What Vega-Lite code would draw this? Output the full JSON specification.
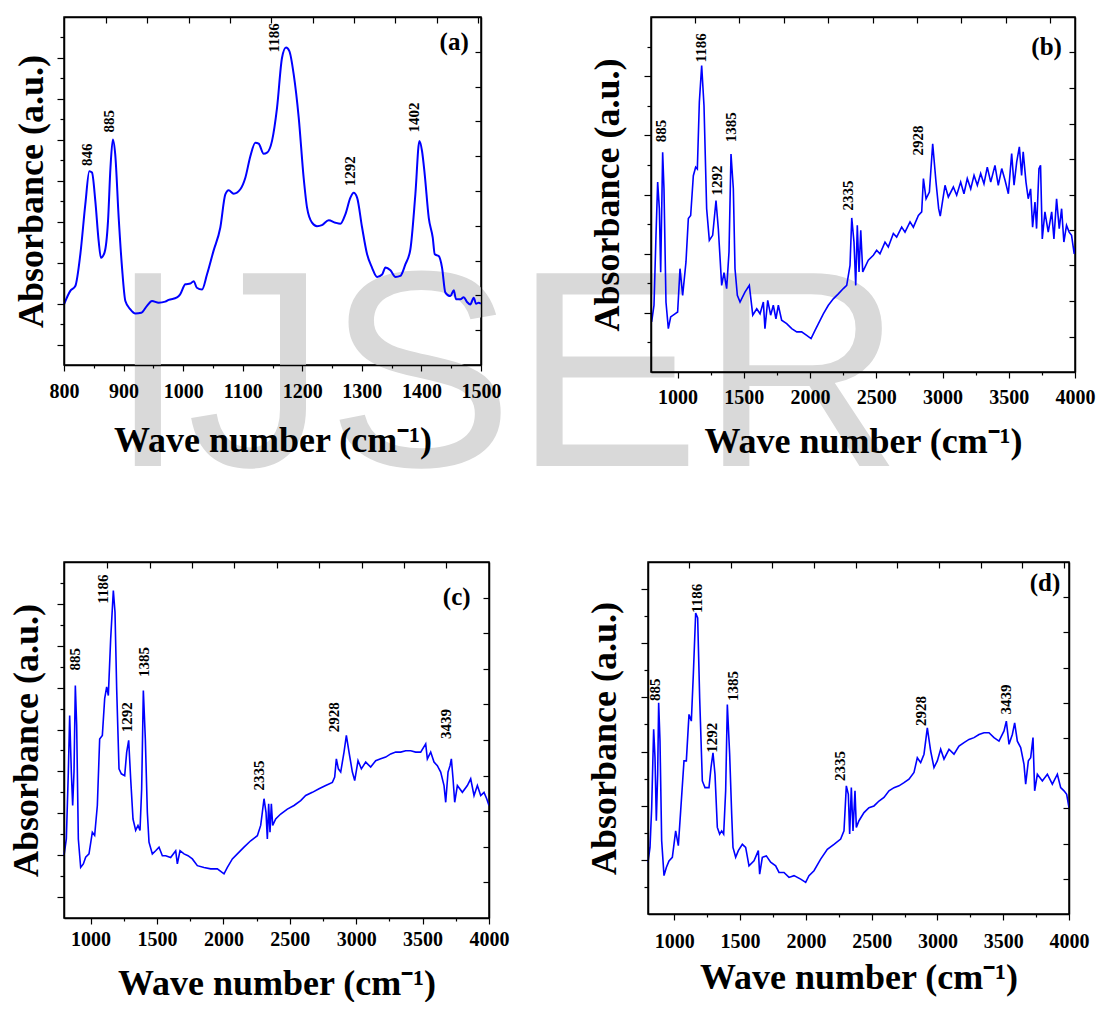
{
"$schema": "https://vega.github.io/schema/vega-lite/v6.json",
"background": "white",
"padding": {"left": 7, "top": 15, "right": 0, "bottom": 0},
"autosize": {"type": "pad"},
"config": {
  "view": {"stroke": "black", "strokeWidth": 1.5},
  "axis": {"domainColor": "black", "domainWidth": 1.5, "tickColor": "black", "tickWidth": 1.2, "grid": false, "zindex": 1,
    "labelFont": "Liberation Serif", "labelFontWeight": "bold", "labelFontSize": 20, "labelColor": "black",
    "titleFont": "Liberation Serif", "titleFontWeight": "bold", "titleFontSize": 36, "titleColor": "black"}
},
"datasets": {
  "a": [{"w":800,"v":17.4},{"w":810.6,"v":21.3},{"w":819,"v":22.7},{"w":827.4,"v":31.8},{"w":835.8,"v":46.2},{"w":842.5,"v":55.7},{"w":847,"v":55.3},{"w":852.6,"v":47.1},{"w":858.2,"v":35.6},{"w":862,"v":30.8},{"w":868,"v":32.3},{"w":873.9,"v":41.4},{"w":878,"v":56.7},{"w":882,"v":64.8},{"w":886,"v":60.5},{"w":891.8,"v":42.3},{"w":897.4,"v":28},{"w":903,"v":18.4},{"w":911.4,"v":16},{"w":919.8,"v":14.8},{"w":929.8,"v":15},{"w":939.3,"v":17},{"w":947.7,"v":18.4},{"w":959,"v":17.9},{"w":970,"v":18.2},{"w":975.7,"v":18.7},{"w":989.7,"v":19.4},{"w":995,"v":20.3},{"w":1003.7,"v":23.2},{"w":1012,"v":23.4},{"w":1017.7,"v":24.1},{"w":1023,"v":22.2},{"w":1031.7,"v":21.7},{"w":1040,"v":26},{"w":1051,"v":32.8},{"w":1062.4,"v":39.5},{"w":1070.8,"v":49},{"w":1076.4,"v":50.2},{"w":1084.8,"v":49.2},{"w":1096,"v":50.5},{"w":1104.4,"v":53.8},{"w":1112.8,"v":60},{"w":1121.2,"v":63.9},{"w":1126.8,"v":63.6},{"w":1135.2,"v":60.7},{"w":1140.8,"v":61},{"w":1149.2,"v":64.4},{"w":1157.6,"v":73.9},{"w":1166,"v":88.3},{"w":1172.7,"v":91.2},{"w":1178.3,"v":90.2},{"w":1185.6,"v":83.5},{"w":1194,"v":71.1},{"w":1202.3,"v":53.8},{"w":1208,"v":45.2},{"w":1216.3,"v":40.9},{"w":1224.7,"v":39.9},{"w":1233,"v":40.2},{"w":1244.3,"v":41.6},{"w":1255.5,"v":40.9},{"w":1264,"v":40.6},{"w":1272.3,"v":43.3},{"w":1280.8,"v":48.1},{"w":1286.3,"v":49.5},{"w":1292,"v":48.1},{"w":1300.4,"v":39.5},{"w":1308.8,"v":31.8},{"w":1317,"v":28},{"w":1325.6,"v":25.3},{"w":1334,"v":26},{"w":1339.6,"v":28},{"w":1348,"v":27.2},{"w":1356.5,"v":25.3},{"w":1364.6,"v":25.6},{"w":1373,"v":28.9},{"w":1381.4,"v":33.2},{"w":1389.8,"v":49},{"w":1396.6,"v":64.4},{"w":1401,"v":61.5},{"w":1405.5,"v":54.8},{"w":1412.3,"v":42.3},{"w":1419,"v":36.6},{"w":1422.4,"v":31.8},{"w":1429,"v":31.3},{"w":1434.6,"v":28},{"w":1440.2,"v":20.8},{"w":1448.6,"v":19.8},{"w":1454.3,"v":21.5},{"w":1458,"v":18.9},{"w":1465.4,"v":18.9},{"w":1471,"v":19.5},{"w":1476.5,"v":18.1},{"w":1482,"v":17.4},{"w":1487.8,"v":19.3},{"w":1491.7,"v":17.6},{"w":1496,"v":17.9},{"w":1500,"v":17.6}],
  "b": [{"w":805,"v":14.1},{"w":822.6,"v":18.8},{"w":837.7,"v":38.5},{"w":850.3,"v":53.5},{"w":863,"v":46},{"w":873,"v":28.1},{"w":888,"v":61.9},{"w":898,"v":51.6},{"w":913,"v":19.7},{"w":930.8,"v":12.2},{"w":948.4,"v":15.5},{"w":981,"v":16.4},{"w":1001,"v":16.9},{"w":1018.9,"v":29.1},{"w":1039,"v":21.6},{"w":1064,"v":31},{"w":1081.8,"v":43.2},{"w":1099.4,"v":44.1},{"w":1119.5,"v":55.3},{"w":1137,"v":57.7},{"w":1149.7,"v":57.2},{"w":1164.8,"v":76},{"w":1182.4,"v":86.3},{"w":1200,"v":75},{"w":1220,"v":46},{"w":1240.3,"v":37.1},{"w":1265.4,"v":38.5},{"w":1290.6,"v":48.3},{"w":1308.2,"v":40.3},{"w":1333.3,"v":24.4},{"w":1351,"v":28},{"w":1371,"v":23.5},{"w":1388.7,"v":33.8},{"w":1403.8,"v":61.4},{"w":1421.4,"v":51.6},{"w":1434,"v":29.1},{"w":1451.6,"v":21.6},{"w":1472,"v":19.7},{"w":1509,"v":22.5},{"w":1542,"v":24.4},{"w":1568,"v":16},{"w":1598,"v":17.8},{"w":1623,"v":16.4},{"w":1648,"v":19.7},{"w":1660,"v":12.2},{"w":1681,"v":20.2},{"w":1703,"v":16},{"w":1723,"v":18.8},{"w":1743,"v":15},{"w":1761,"v":18.8},{"w":1786,"v":14.6},{"w":1824,"v":13.6},{"w":1862,"v":12.2},{"w":1900,"v":11.3},{"w":1937,"v":11.3},{"w":1975,"v":10.3},{"w":2008,"v":9.4},{"w":2038,"v":11.7},{"w":2100.6,"v":16.4},{"w":2138.4,"v":18.8},{"w":2176,"v":20.6},{"w":2213.8,"v":22},{"w":2251.5,"v":23.5},{"w":2277,"v":24.4},{"w":2302,"v":30},{"w":2315,"v":43.4},{"w":2332,"v":36.6},{"w":2345,"v":24.4},{"w":2357,"v":41.3},{"w":2370,"v":28.2},{"w":2383,"v":39.9},{"w":2398,"v":28.2},{"w":2440,"v":31.5},{"w":2478,"v":32.9},{"w":2503,"v":34.3},{"w":2528,"v":33.3},{"w":2566,"v":36.6},{"w":2591,"v":35.2},{"w":2629,"v":39},{"w":2654,"v":38},{"w":2692,"v":40.8},{"w":2717,"v":39.4},{"w":2755,"v":42.3},{"w":2780,"v":40.8},{"w":2818,"v":44.1},{"w":2843,"v":45.1},{"w":2856,"v":54.5},{"w":2876,"v":48.8},{"w":2901,"v":50.7},{"w":2926,"v":64.3},{"w":2951,"v":53.5},{"w":2971,"v":46},{"w":2983,"v":43.9},{"w":3019,"v":52.6},{"w":3044,"v":49.3},{"w":3082,"v":52.1},{"w":3107,"v":49.8},{"w":3137,"v":53.5},{"w":3162,"v":50.2},{"w":3187,"v":54.5},{"w":3213,"v":51.6},{"w":3238,"v":55.4},{"w":3263,"v":52.6},{"w":3288,"v":55.9},{"w":3313,"v":53},{"w":3338,"v":57.7},{"w":3364,"v":53.5},{"w":3396,"v":58.2},{"w":3421,"v":52.6},{"w":3447,"v":57.3},{"w":3472,"v":54},{"w":3497,"v":50.2},{"w":3522,"v":61.5},{"w":3540,"v":52.6},{"w":3560,"v":59.2},{"w":3580,"v":63.4},{"w":3597,"v":55.4},{"w":3609,"v":62},{"w":3630,"v":53.5},{"w":3647,"v":48.8},{"w":3665,"v":51.6},{"w":3680,"v":40.8},{"w":3698,"v":47.9},{"w":3710,"v":40.4},{"w":3728,"v":57.3},{"w":3740,"v":58.2},{"w":3753,"v":37.5},{"w":3773,"v":45.1},{"w":3798,"v":39.4},{"w":3824,"v":45.1},{"w":3841,"v":37.5},{"w":3861,"v":48.8},{"w":3881,"v":40.4},{"w":3899,"v":46},{"w":3916,"v":36.6},{"w":3936,"v":41.3},{"w":3956,"v":39.4},{"w":3974,"v":38.5},{"w":3994,"v":33.3},{"w":4000,"v":35}],
  "c": [{"w":800,"v":17.5},{"w":817.6,"v":22.2},{"w":832.6,"v":41},{"w":842.7,"v":56.9},{"w":855.2,"v":41},{"w":865.3,"v":31.6},{"w":875.3,"v":41},{"w":885.3,"v":65.3},{"w":895.4,"v":54.1},{"w":907.9,"v":22.2},{"w":925.5,"v":14.2},{"w":945.6,"v":15.2},{"w":963.1,"v":17.1},{"w":988.2,"v":18},{"w":1013.4,"v":24.1},{"w":1030.9,"v":23.2},{"w":1051,"v":31.6},{"w":1068.6,"v":50.3},{"w":1088.7,"v":51.3},{"w":1106.2,"v":61.6},{"w":1121.3,"v":64.9},{"w":1133.8,"v":62.5},{"w":1151.4,"v":78.4},{"w":1171.5,"v":92},{"w":1184,"v":85.9},{"w":1196.6,"v":64.4},{"w":1214.2,"v":41.9},{"w":1231.8,"v":40.5},{"w":1256.9,"v":40},{"w":1272,"v":46.6},{"w":1287,"v":49.9},{"w":1302,"v":39.1},{"w":1319.6,"v":27.8},{"w":1339.7,"v":24.6},{"w":1357.2,"v":26},{"w":1372.3,"v":24.6},{"w":1384.8,"v":36.3},{"w":1397.4,"v":63.9},{"w":1412.4,"v":50.3},{"w":1427.5,"v":29.7},{"w":1440,"v":21.3},{"w":1465.2,"v":18},{"w":1490.3,"v":18.9},{"w":1515.4,"v":19.9},{"w":1540.5,"v":17.5},{"w":1565.6,"v":17.5},{"w":1603.2,"v":17},{"w":1640.9,"v":18.9},{"w":1653.4,"v":15.2},{"w":1673.5,"v":18.9},{"w":1703.6,"v":18},{"w":1733.7,"v":17.5},{"w":1766.4,"v":16.6},{"w":1804,"v":14.7},{"w":1854.2,"v":14.2},{"w":1904.4,"v":13.8},{"w":1954.6,"v":13.8},{"w":2004.8,"v":12.4},{"w":2030,"v":14.2},{"w":2067.6,"v":16.6},{"w":2105.2,"v":18},{"w":2155.4,"v":19.9},{"w":2205.6,"v":21.7},{"w":2255.8,"v":23.1},{"w":2280.9,"v":26},{"w":2293.5,"v":29.7},{"w":2306,"v":33.5},{"w":2321,"v":29.7},{"w":2331,"v":22.2},{"w":2341,"v":32.1},{"w":2351,"v":24.1},{"w":2361.2,"v":32.1},{"w":2371.3,"v":26},{"w":2393.9,"v":27.8},{"w":2431.5,"v":29.2},{"w":2481.7,"v":30.6},{"w":2532,"v":31.6},{"w":2582.1,"v":33},{"w":2619.8,"v":34.4},{"w":2670,"v":35.3},{"w":2720.2,"v":36.3},{"w":2770.4,"v":37.2},{"w":2820.6,"v":38.1},{"w":2838.2,"v":39.6},{"w":2850.7,"v":44.7},{"w":2865.8,"v":41.9},{"w":2883.4,"v":41},{"w":2908.4,"v":46.6},{"w":2926,"v":51.3},{"w":2946,"v":46.6},{"w":2971.2,"v":41},{"w":2988.8,"v":38.6},{"w":3013.9,"v":44.2},{"w":3039,"v":41.9},{"w":3071.6,"v":43.8},{"w":3109.2,"v":42.4},{"w":3146.9,"v":44.2},{"w":3184.5,"v":44.7},{"w":3222.2,"v":45.2},{"w":3259.8,"v":46.1},{"w":3297.5,"v":46.6},{"w":3335.1,"v":46.6},{"w":3372.7,"v":47},{"w":3410.4,"v":47},{"w":3448,"v":46.6},{"w":3485.7,"v":46.6},{"w":3523.3,"v":48.9},{"w":3535.9,"v":44.7},{"w":3561,"v":46.6},{"w":3586,"v":43.8},{"w":3611.2,"v":42.8},{"w":3636.3,"v":41},{"w":3661.4,"v":37.2},{"w":3674,"v":32.5},{"w":3691.5,"v":41},{"w":3706.6,"v":42.8},{"w":3716.6,"v":44.7},{"w":3729.2,"v":39.1},{"w":3741.7,"v":32.5},{"w":3761.8,"v":37.2},{"w":3799.4,"v":35.3},{"w":3837,"v":37.2},{"w":3862.2,"v":39.1},{"w":3887.3,"v":34.4},{"w":3912.4,"v":37.2},{"w":3937.5,"v":34.4},{"w":3962.6,"v":35.3},{"w":3982.7,"v":33.5},{"w":4000,"v":31.6}],
  "d": [{"w":800,"v":14.7},{"w":815.2,"v":18.9},{"w":827.9,"v":30.2},{"w":843,"v":52.5},{"w":853.2,"v":44.4},{"w":863.3,"v":26.5},{"w":873.5,"v":39.7},{"w":881,"v":60},{"w":891.2,"v":49.1},{"w":903.9,"v":20.8},{"w":921.6,"v":10.9},{"w":939.3,"v":13.2},{"w":959.6,"v":15.1},{"w":985,"v":16.1},{"w":1010.3,"v":23.6},{"w":1030.5,"v":19.4},{"w":1048.3,"v":29.3},{"w":1073.6,"v":43.5},{"w":1091.4,"v":43.5},{"w":1111.6,"v":56.7},{"w":1129.4,"v":54.8},{"w":1144.6,"v":68.1},{"w":1162.3,"v":85.5},{"w":1177.5,"v":84.1},{"w":1192.7,"v":61.4},{"w":1213,"v":37.8},{"w":1233.2,"v":35.9},{"w":1263.6,"v":35.9},{"w":1278.8,"v":41.6},{"w":1294,"v":45.8},{"w":1309.2,"v":39.7},{"w":1327,"v":24.6},{"w":1344.7,"v":22.7},{"w":1359.9,"v":23.6},{"w":1375.1,"v":22.7},{"w":1390.3,"v":35},{"w":1403,"v":59.5},{"w":1420.7,"v":45.4},{"w":1436,"v":28.4},{"w":1446,"v":18.9},{"w":1466.3,"v":16.1},{"w":1486.6,"v":18},{"w":1517,"v":19.8},{"w":1542.3,"v":18.9},{"w":1567.7,"v":13.7},{"w":1605.7,"v":15.1},{"w":1638.6,"v":18},{"w":1648.7,"v":11.3},{"w":1669,"v":16.1},{"w":1699.4,"v":16.5},{"w":1732.3,"v":14.7},{"w":1770.4,"v":13.7},{"w":1795.7,"v":11.8},{"w":1833.7,"v":11.8},{"w":1871.7,"v":10.4},{"w":1909.8,"v":10.9},{"w":1960.4,"v":9.9},{"w":1998.4,"v":9},{"w":2023.7,"v":10.9},{"w":2061.7,"v":12.3},{"w":2112.4,"v":15.6},{"w":2163,"v":18.4},{"w":2213.7,"v":19.8},{"w":2264.4,"v":21.3},{"w":2289.7,"v":23.6},{"w":2307.5,"v":36.4},{"w":2322.7,"v":34},{"w":2332.8,"v":22.7},{"w":2345.5,"v":35.9},{"w":2358.2,"v":23.6},{"w":2373.4,"v":35},{"w":2383.5,"v":24.6},{"w":2403.7,"v":26.5},{"w":2441.7,"v":28.8},{"w":2479.7,"v":30.2},{"w":2517.7,"v":30.7},{"w":2555.7,"v":32.1},{"w":2593.7,"v":33.1},{"w":2631.7,"v":35},{"w":2669.7,"v":35.9},{"w":2707.7,"v":36.4},{"w":2745.8,"v":37.3},{"w":2783.8,"v":38.3},{"w":2821.8,"v":40.2},{"w":2847.1,"v":44.4},{"w":2872.5,"v":43},{"w":2897.8,"v":45.4},{"w":2923.1,"v":52.9},{"w":2948.5,"v":46.3},{"w":2973.8,"v":41.6},{"w":2999.1,"v":43.5},{"w":3024.5,"v":46.8},{"w":3049.8,"v":44},{"w":3087.8,"v":46.8},{"w":3125.8,"v":45.4},{"w":3163.8,"v":47.7},{"w":3201.9,"v":48.7},{"w":3239.9,"v":49.6},{"w":3277.9,"v":50.1},{"w":3315.9,"v":51},{"w":3353.9,"v":51.5},{"w":3391.9,"v":51.5},{"w":3429.9,"v":50.1},{"w":3467.9,"v":49.1},{"w":3506,"v":52},{"w":3523.7,"v":54.8},{"w":3544,"v":48.2},{"w":3569.3,"v":51},{"w":3587,"v":54.3},{"w":3607.3,"v":49.1},{"w":3632.7,"v":47.3},{"w":3658,"v":42.5},{"w":3670.7,"v":36.9},{"w":3691,"v":43.5},{"w":3708.7,"v":44.4},{"w":3726.4,"v":50.1},{"w":3739,"v":35},{"w":3759.4,"v":39.7},{"w":3797.4,"v":37.8},{"w":3835.4,"v":39.7},{"w":3873.4,"v":36.9},{"w":3911.4,"v":39.7},{"w":3936.8,"v":35.9},{"w":3962,"v":35},{"w":3982.3,"v":34},{"w":4000,"v":30.2}],
  "la": [{"w":838.6,"v":57.2,"t":"846"},{"w":875,"v":66.8,"t":"885"},{"w":1152,"v":89.8,"t":"1186"},{"w":1280.7,"v":51.4,"t":"1292"},{"w":1388,"v":66.8,"t":"1402"}],
  "lb": [{"w":873,"v":64.7,"t":"885"},{"w":1175,"v":87.2,"t":"1186"},{"w":1295.6,"v":49.7,"t":"1292"},{"w":1401,"v":64.7,"t":"1385"},{"w":2289,"v":45.5,"t":"2335"},{"w":2817.6,"v":61,"t":"2928"}],
  "lc": [{"w":880,"v":69.5,"t":"885"},{"w":1096,"v":88.3,"t":"1186"},{"w":1272,"v":52.2,"t":"1292"},{"w":1402,"v":67.7,"t":"1385"},{"w":2268,"v":35.8,"t":"2335"},{"w":2833,"v":52.2,"t":"2928"},{"w":3674,"v":50.3,"t":"3439"}],
  "ld": [{"w":855,"v":60.5,"t":"885"},{"w":1175,"v":85.5,"t":"1186"},{"w":1284,"v":45.8,"t":"1292"},{"w":1446,"v":60.5,"t":"1385"},{"w":2257,"v":37.8,"t":"2335"},{"w":2872.5,"v":53.4,"t":"2928"},{"w":3523.5,"v":56.7,"t":"3439"}]
},
"concat": [
 {"hconcat": [
  {"width": 417, "height": 348,
   "layer": [
    {"data": {"values": [{"w": 875.5, "v": -29, "t": "IJSER"}]},
     "mark": {"type": "text", "font": "Liberation Sans", "fontSize": 280, "color": "#d9d9d9", "align": "left", "baseline": "alphabetic"},
     "encoding": {"x": {"field": "w", "type": "quantitative", "scale": {"domain": [800, 1500], "nice": false, "zero": false}, "axis": null},
                  "y": {"field": "v", "type": "quantitative", "scale": {"domain": [0, 100], "nice": false, "zero": false}, "axis": null},
                  "text": {"field": "t"}}},
    {"data": {"name": "a"},
     "mark": {"type": "line", "color": "#0000ff", "strokeWidth": 2, "interpolate": "monotone"},
     "encoding": {"x": {"field": "w", "type": "quantitative", "scale": {"domain": [800, 1500], "nice": false, "zero": false},
                        "axis": {"orient": "bottom", "zindex": 2, "values": [800,850,900,950,1000,1050,1100,1150,1200,1250,1300,1350,1400,1450,1500], "format": "d",
                                 "labelExpr": "datum.value % 100 === 0 ? datum.label : ''", "labelOverlap": false, "labelFlush": false,
                                 "tickSize": {"condition": {"test": "datum.value % 100 === 0", "value": 6}, "value": 3},
                                 "labelPadding": 10, "title": "Wave number (cm⁻¹)", "titlePadding": 22}},
                  "y": {"field": "v", "type": "quantitative", "scale": {"domain": [0, 100], "nice": false, "zero": false},
                        "axis": {"orient": "left", "zindex": 2, "values": [5.882,11.765,17.647,23.529,29.412,35.294,41.176,47.059,52.941,58.824,64.706,70.588,76.471,82.353,88.235,94.118],
                                 "labels": false, "tickSize": {"condition": {"test": "round(datum.value*17/100) % 2 === 1", "value": 7}, "value": 4},
                                 "title": "Absorbance (a.u.)", "titlePadding": 6}}}},
    {"data": {"name": "la"},
     "mark": {"type": "text", "angle": 270, "align": "left", "baseline": "middle", "font": "Liberation Serif", "fontWeight": "bold", "fontSize": 15, "color": "black"},
     "encoding": {"x": {"field": "w", "type": "quantitative", "scale": {"domain": [800, 1500], "nice": false, "zero": false},
                        "axis": {"orient": "top", "zindex": 2, "values": [871,940,1010,1079,1148,1218,1287,1356,1426,1495], "labels": false, "title": null, "tickSize": -6}},
                  "y": {"field": "v", "type": "quantitative", "scale": {"domain": [0, 100], "nice": false, "zero": false},
                        "axis": {"orient": "right", "zindex": 2, "values": [10,20,30,40,50,60,70,80,90], "labels": false, "title": null, "tickSize": -6}},
                  "text": {"field": "t"}}},
    {"data": {"values": [{"w": 1455, "v": 92.9, "t": "(a)"}]},
     "mark": {"type": "text", "align": "center", "baseline": "middle", "font": "Liberation Serif", "fontWeight": "bold", "fontSize": 25, "color": "black"},
     "encoding": {"x": {"field": "w", "type": "quantitative", "scale": {"domain": [800, 1500], "nice": false, "zero": false}, "axis": null},
                  "y": {"field": "v", "type": "quantitative", "scale": {"domain": [0, 100], "nice": false, "zero": false}, "axis": null},
                  "text": {"field": "t"}}}
   ],
   "resolve": {"axis": {"x": "independent", "y": "independent"}}},
  {"width": 424, "height": 355,
   "layer": [
    {"data": {"name": "b"},
     "mark": {"type": "line", "color": "#0000ff", "strokeWidth": 1.6},
     "encoding": {"x": {"field": "w", "type": "quantitative", "scale": {"domain": [800, 4000], "nice": false, "zero": false},
                        "axis": {"orient": "bottom", "zindex": 2, "values": [1000,1250,1500,1750,2000,2250,2500,2750,3000,3250,3500,3750,4000], "format": "d",
                                 "labelExpr": "datum.value % 500 === 0 ? datum.label : ''", "labelOverlap": false, "labelFlush": false,
                                 "tickSize": {"condition": {"test": "datum.value % 500 === 0", "value": 6}, "value": 3},
                                 "labelPadding": 9, "title": "Wave number (cm⁻¹)", "titlePadding": 17}},
                  "y": {"field": "v", "type": "quantitative", "scale": {"domain": [0, 100], "nice": false, "zero": false},
                        "axis": {"orient": "left", "zindex": 2, "values": [8.333,16.667,25,33.333,41.667,50,58.333,66.667,75,83.333,91.667],
                                 "labels": false, "tickSize": {"condition": {"test": "round(datum.value*12/100) % 2 === 0", "value": 7}, "value": 4},
                                 "title": "Absorbance (a.u.)", "titlePadding": 17}}}},
    {"data": {"name": "lb"},
     "mark": {"type": "text", "angle": 270, "align": "left", "baseline": "middle", "font": "Liberation Serif", "fontWeight": "bold", "fontSize": 15, "color": "black"},
     "encoding": {"x": {"field": "w", "type": "quantitative", "scale": {"domain": [800, 4000], "nice": false, "zero": false},
                        "axis": {"orient": "top", "zindex": 2, "values": [1132,1467,1802,2137,2472,2807,3142,3477,3812], "labels": false, "title": null, "tickSize": -6}},
                  "y": {"field": "v", "type": "quantitative", "scale": {"domain": [0, 100], "nice": false, "zero": false},
                        "axis": {"orient": "right", "zindex": 2, "values": [10,20,30,40,50,60,70,80,90], "labels": false, "title": null, "tickSize": -6}},
                  "text": {"field": "t"}}},
    {"data": {"values": [{"w": 3786, "v": 91.5, "t": "(b)"}]},
     "mark": {"type": "text", "align": "center", "baseline": "middle", "font": "Liberation Serif", "fontWeight": "bold", "fontSize": 25, "color": "black"},
     "encoding": {"x": {"field": "w", "type": "quantitative", "scale": {"domain": [800, 4000], "nice": false, "zero": false}, "axis": null},
                  "y": {"field": "v", "type": "quantitative", "scale": {"domain": [0, 100], "nice": false, "zero": false}, "axis": null},
                  "text": {"field": "t"}}}
   ],
   "resolve": {"axis": {"x": "independent", "y": "independent"}}}
 ], "spacing": 170, "bounds": "flush"},
 {"hconcat": [
  {"width": 425, "height": 356,
   "layer": [
    {"data": {"name": "c"},
     "mark": {"type": "line", "color": "#0000ff", "strokeWidth": 1.6},
     "encoding": {"x": {"field": "w", "type": "quantitative", "scale": {"domain": [800, 4000], "nice": false, "zero": false},
                        "axis": {"orient": "bottom", "zindex": 2, "values": [1000,1250,1500,1750,2000,2250,2500,2750,3000,3250,3500,3750,4000], "format": "d",
                                 "labelExpr": "datum.value % 500 === 0 ? datum.label : ''", "labelOverlap": false, "labelFlush": false,
                                 "tickSize": {"condition": {"test": "datum.value % 500 === 0", "value": 6}, "value": 3},
                                 "labelPadding": 5, "title": "Wave number (cm⁻¹)", "titlePadding": 17}},
                  "y": {"field": "v", "type": "quantitative", "scale": {"domain": [0, 100], "nice": false, "zero": false},
                        "axis": {"orient": "left", "zindex": 2, "values": [5.882,11.765,17.647,23.529,29.412,35.294,41.176,47.059,52.941,58.824,64.706,70.588,76.471,82.353,88.235,94.118],
                                 "labels": false, "tickSize": {"condition": {"test": "round(datum.value*17/100) % 2 === 1", "value": 7}, "value": 4},
                                 "title": "Absorbance (a.u.)", "titlePadding": 11}}}},
    {"data": {"name": "lc"},
     "mark": {"type": "text", "angle": 270, "align": "left", "baseline": "middle", "font": "Liberation Serif", "fontWeight": "bold", "fontSize": 15, "color": "black"},
     "encoding": {"x": {"field": "w", "type": "quantitative", "scale": {"domain": [800, 4000], "nice": false, "zero": false},
                        "axis": {"orient": "top", "zindex": 2, "values": [1126,1445,1764,2083,2402,2721,3040,3359,3678], "labels": false, "title": null, "tickSize": -6}},
                  "y": {"field": "v", "type": "quantitative", "scale": {"domain": [0, 100], "nice": false, "zero": false},
                        "axis": {"orient": "right", "zindex": 2, "values": [10,20,30,40,50,60,70,80,90], "labels": false, "title": null, "tickSize": -6}},
                  "text": {"field": "t"}}},
    {"data": {"values": [{"w": 3757, "v": 90.2, "t": "(c)"}]},
     "mark": {"type": "text", "align": "center", "baseline": "middle", "font": "Liberation Serif", "fontWeight": "bold", "fontSize": 25, "color": "black"},
     "encoding": {"x": {"field": "w", "type": "quantitative", "scale": {"domain": [800, 4000], "nice": false, "zero": false}, "axis": null},
                  "y": {"field": "v", "type": "quantitative", "scale": {"domain": [0, 100], "nice": false, "zero": false}, "axis": null},
                  "text": {"field": "t"}}}
   ],
   "resolve": {"axis": {"x": "independent", "y": "independent"}}},
  {"width": 421, "height": 352,
   "layer": [
    {"data": {"name": "d"},
     "mark": {"type": "line", "color": "#0000ff", "strokeWidth": 1.6},
     "encoding": {"x": {"field": "w", "type": "quantitative", "scale": {"domain": [800, 4000], "nice": false, "zero": false},
                        "axis": {"orient": "bottom", "zindex": 2, "values": [1000,1250,1500,1750,2000,2250,2500,2750,3000,3250,3500,3750,4000], "format": "d",
                                 "labelExpr": "datum.value % 500 === 0 ? datum.label : ''", "labelOverlap": false, "labelFlush": false,
                                 "tickSize": {"condition": {"test": "datum.value % 500 === 0", "value": 6}, "value": 3},
                                 "labelPadding": 11, "title": "Wave number (cm⁻¹)", "titlePadding": 9}},
                  "y": {"field": "v", "type": "quantitative", "scale": {"domain": [0, 100], "nice": false, "zero": false},
                        "axis": {"orient": "left", "zindex": 2, "values": [7.692,15.385,23.077,30.769,38.462,46.154,53.846,61.538,69.231,76.923,84.615,92.308],
                                 "labels": false, "tickSize": {"condition": {"test": "round(datum.value*13/100) % 2 === 0", "value": 7}, "value": 4},
                                 "title": "Absorbance (a.u.)", "titlePadding": 17}}}},
    {"data": {"name": "ld"},
     "mark": {"type": "text", "angle": 270, "align": "left", "baseline": "middle", "font": "Liberation Serif", "fontWeight": "bold", "fontSize": 15, "color": "black"},
     "encoding": {"x": {"field": "w", "type": "quantitative", "scale": {"domain": [800, 4000], "nice": false, "zero": false},
                        "axis": {"orient": "top", "zindex": 2, "values": [1112,1429,1745,2062,2379,2695,3012,3329,3645,3962], "labels": false, "title": null, "tickSize": -6}},
                  "y": {"field": "v", "type": "quantitative", "scale": {"domain": [0, 100], "nice": false, "zero": false},
                        "axis": {"orient": "right", "zindex": 2, "values": [10,20,30,40,50,60,70,80,90], "labels": false, "title": null, "tickSize": -6}},
                  "text": {"field": "t"}}},
    {"data": {"values": [{"w": 3817.5, "v": 93.9, "t": "(d)"}]},
     "mark": {"type": "text", "align": "center", "baseline": "middle", "font": "Liberation Serif", "fontWeight": "bold", "fontSize": 25, "color": "black"},
     "encoding": {"x": {"field": "w", "type": "quantitative", "scale": {"domain": [800, 4000], "nice": false, "zero": false}, "axis": null},
                  "y": {"field": "v", "type": "quantitative", "scale": {"domain": [0, 100], "nice": false, "zero": false}, "axis": null},
                  "text": {"field": "t"}}}
   ],
   "resolve": {"axis": {"x": "independent", "y": "independent"}}}
 ], "spacing": 159, "bounds": "flush"}
],
"columns": 1, "align": "none",
"spacing": 37
}
